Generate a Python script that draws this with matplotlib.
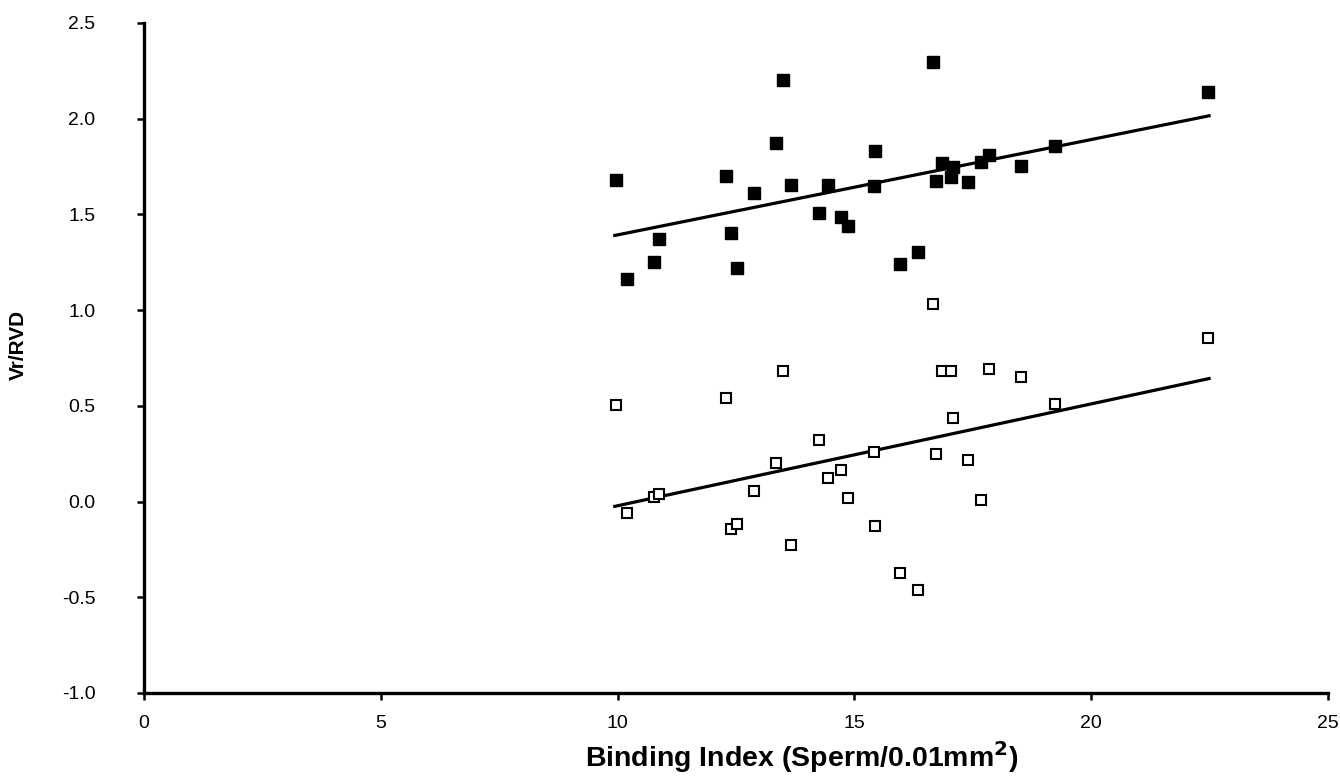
import os
os.environ.setdefault("MPLBACKEND", "Agg")
import numpy as np
import matplotlib.pyplot as plt

# binding index (shared by both groups)
binding_index = [9.97, 10.20, 10.77, 10.87, 12.29, 12.39, 12.53, 12.89, 13.34, 13.49,
                 13.66, 14.25, 14.44, 14.72, 14.87, 15.41, 15.43, 15.96, 16.34, 16.67,
                 16.72, 16.86, 17.03, 17.09, 17.39, 17.67, 17.84, 18.52, 19.23, 22.47]

# filled squares
vr_filled = [1.68, 1.165, 1.25, 1.37, 1.70, 1.405, 1.22, 1.61, 1.875, 2.20,
             1.656, 1.505, 1.656, 1.484, 1.442, 1.646, 1.829, 1.243, 1.306, 2.294,
             1.677, 1.766, 1.693, 1.745, 1.667, 1.776, 1.808, 1.755, 1.855, 2.142]

# open squares
vr_open = [0.503, -0.061, 0.022, 0.038, 0.54, -0.143, -0.117, 0.054, 0.199, 0.684,
           -0.225, 0.322, 0.122, 0.166, 0.019, 0.261, -0.127, -0.371, -0.461, 1.031,
           0.247, 0.683, 0.681, 0.437, 0.216, 0.007, 0.69, 0.649, 0.512, 0.853]

# regression lines (slope, intercept)
fit_filled = (0.0498, 0.895)
fit_open = (0.0532, -0.554)
fit_range = (9.94, 22.49)

x_ticks = [0, 5, 10, 15, 20, 25]
y_ticks = [-1.0, -0.5, 0.0, 0.5, 1.0, 1.5, 2.0, 2.5]

plt.rcParams["font.family"] = ["Liberation Sans", "DejaVu Sans"]

fig = plt.figure(figsize=(13.4, 7.76), dpi=100)
ax = fig.add_axes([0.1075, 0.107, 0.8835, 0.8634])

xs = np.array(fit_range)
for slope, icpt in (fit_filled, fit_open):
    ax.plot(xs, slope * xs + icpt, color="black", linewidth=2.3, zorder=2)

ax.plot(binding_index, vr_filled, linestyle="none", marker="s", markersize=8,
        markerfacecolor="black", markeredgecolor="black", zorder=3)
ax.plot(binding_index, vr_open, linestyle="none", marker="s", markersize=7.2,
        markerfacecolor="white", markeredgecolor="black", markeredgewidth=1.5, zorder=3)

ax.set_xlim(0, 25)
ax.set_ylim(-1.0, 2.5)
ax.set_xticks(x_ticks)
ax.set_xticklabels([str(t) for t in x_ticks])
ax.set_yticks(y_ticks)
ax.set_yticklabels([f"{t:.1f}" for t in y_ticks])

for s in ("top", "right"):
    ax.spines[s].set_visible(False)
for s in ("left", "bottom"):
    ax.spines[s].set_linewidth(2.4)
ax.tick_params(axis="both", direction="out", length=5, width=1.8, labelsize=14)
ax.tick_params(axis="y", pad=30)
ax.tick_params(axis="x", pad=11)

fig.text(0.5985, 0.012, "Binding Index (Sperm/0.01mm$^\\mathbf{2}$)", fontsize=20.5,
         fontweight="bold", ha="center", va="baseline")
fig.text(0.0135, 0.555, "Vr/RVD", fontsize=15, fontweight="bold",
         rotation=90, ha="center", va="center")

fig.savefig("out.png", dpi=100)
